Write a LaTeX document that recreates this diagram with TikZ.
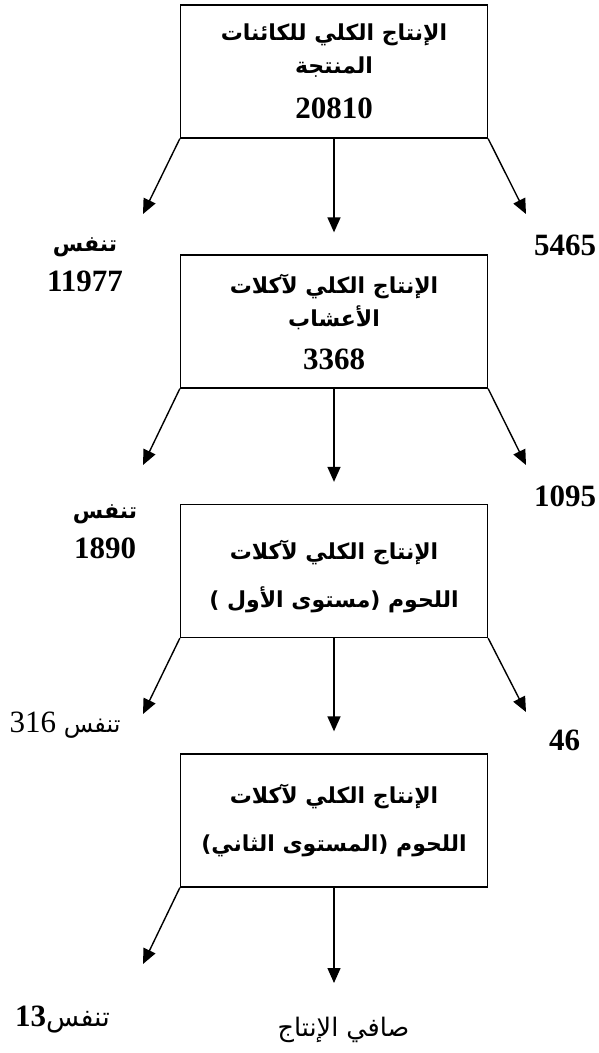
\documentclass[tikz,border=0pt]{standalone}
\usepackage{fontspec}
\setmainfont{Liberation Serif}
\newfontfamily\arabicfont[Script=Arabic]{DejaVu Sans}
\TeXXeTstate=1
\usetikzlibrary{arrows.meta}
\newcommand{\artxt}[2][22]{{\arabicfont\fontsize{#1}{#1}\selectfont\beginR #2\endR}}

\begin{document}
\begin{tikzpicture}[x=1pt,y=-1pt]
    \tikzset{level/.style = {draw, line width=1.3pt, minimum width=307pt, minimum height=133pt, inner sep=0pt, align=center, font=\bfseries\fontsize{31}{33}\selectfont}}
    \tikzset{flow/.style = {draw, line width=1.4pt, -{Triangle[length=15pt,width=13pt]}}}
    \tikzset{value/.style = {inner sep=0pt, align=center, font=\bfseries\fontsize{31}{40}\selectfont}}
    \useasboundingbox (0,0) rectangle (599,1053);

    % levels
    \node[level] (prod) at (334,71.5) {\artxt{الإنتاج الكلي للكائنات}\\ \artxt{المنتجة}\\[12pt] 20810};
    \node[level] (herb) at (334,321.5) {\artxt{الإنتاج الكلي لآكلات}\\ \artxt{الأعشاب}\\[10pt] 3368};
    \node[level, font=\bfseries\fontsize{31}{48}\selectfont] (carna) at (334,571) {\rule{0pt}{30pt}\artxt{الإنتاج الكلي لآكلات}\\ \artxt{اللحوم (مستوى الأول )}};
    \node[level, font=\bfseries\fontsize{31}{48}\selectfont] (carnb) at (334,820.5) {\artxt{الإنتاج الكلي لآكلات}\\ \artxt{اللحوم (المستوى الثاني)}};

    % values
    \node[value] (respa) at (85,265) {\artxt{تنفس}\\ 11977};
    \node[value] (respb) at (105,532) {\artxt{تنفس}\\ 1890};
    \node[value, font=\fontsize{31}{33}\selectfont] (respc) at (65,725) {316 \artxt[24]{تنفس}};
    \node[value, font=\fontsize{31}{33}\selectfont] (respd) at (62.5,1020) {\textbf{13}\artxt[27]{تنفس}};
    \node[value] (losa) at (565,245) {5465};
    \node[value] (losb) at (565,496) {1095};
    \node[value] (losc) at (564.5,740) {46};
    \node[value, font=\fontsize{31}{33}\selectfont] (net) at (343.5,1030) {\artxt[25.5]{صافي الإنتاج}};

    % arrow ends
    \coordinate (la) at (143,214);
    \coordinate (ra) at (526,214);
    \coordinate (lb) at (143,465);
    \coordinate (rb) at (526,465);
    \coordinate (lc) at (143,714);
    \coordinate (rc) at (526,712);
    \coordinate (ld) at (143,964);
    \coordinate (nd) at (334,983);

    % flows
    \draw[flow] (prod.south west) -- (la);
    \draw[flow, shorten >=22pt] (prod.south) -- (herb.north);
    \draw[flow] (prod.south east) -- (ra);
    \draw[flow] (herb.south west) -- (lb);
    \draw[flow, shorten >=22pt] (herb.south) -- (carna.north);
    \draw[flow] (herb.south east) -- (rb);
    \draw[flow] (carna.south west) -- (lc);
    \draw[flow, shorten >=22pt] (carna.south) -- (carnb.north);
    \draw[flow] (carna.south east) -- (rc);
    \draw[flow] (carnb.south west) -- (ld);
    \draw[flow] (carnb.south) -- (nd);
\end{tikzpicture}
\end{document}
